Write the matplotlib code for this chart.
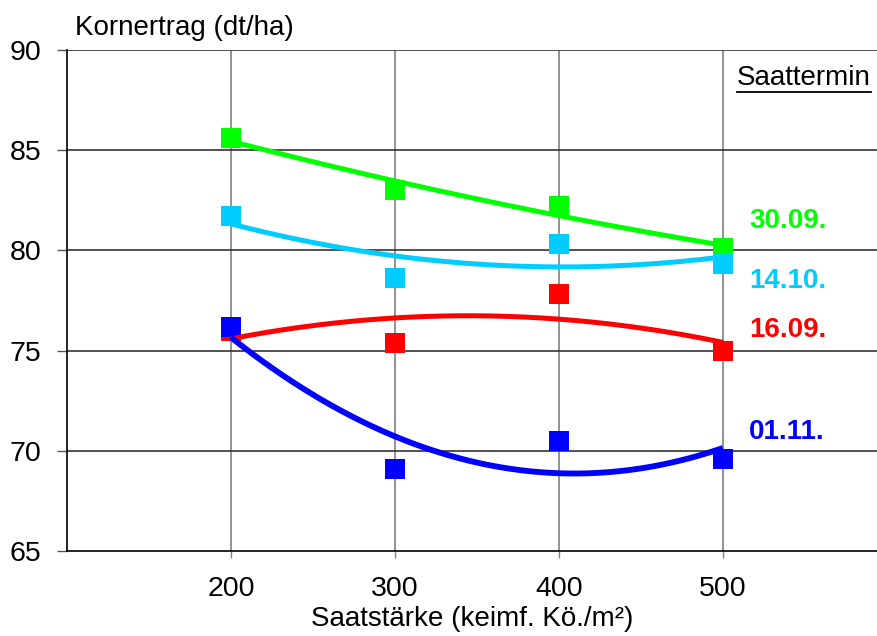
import numpy as np
import matplotlib
matplotlib.use("Agg")
import matplotlib.pyplot as plt

plt.rcParams['font.family'] = ['Liberation Sans', 'DejaVu Sans']

# Saatstärke (keimf. Kö./m2)
staerke = [200, 300, 400, 500]

# Kornertrag je Saattermin (dt/ha)
termine = ['30.09.', '14.10.', '16.09.', '01.11.']
ertrag_3009 = [85.6, 83.0, 82.2, 80.1]
ertrag_1410 = [81.7, 78.6, 80.3, 79.3]
ertrag_1609 = [76.0, 75.4, 77.8, 75.0]
ertrag_0111 = [76.2, 69.1, 70.5, 69.6]

farben = ['#00ff00', '#00ccff', '#ff0000', '#0000ff']
label_y = [81.45, 78.45, 76.05, 70.95]
linienbreite = [3.6, 3.6, 3.6, 4.2]

yticks = [65, 70, 75, 80, 85, 90]

fig = plt.figure(figsize=(8.77, 6.36), dpi=100)
ax = fig.add_axes([67 / 877, 1 - 551 / 636, 1 - 67 / 877, (551 - 50) / 636])

for x in staerke:
    ax.axvline(x, color='#808080', lw=1.2, zorder=1)
for y in yticks[1:]:
    ax.axhline(y, color='#333333', lw=1.2, zorder=1)

serien = [ertrag_3009, ertrag_1410, ertrag_1609, ertrag_0111]
xs = np.linspace(staerke[0], staerke[-1], 200)
for werte, farbe, name, ly, lw in zip(serien, farben, termine, label_y, linienbreite):
    ax.scatter(staerke, werte, marker='s', s=200, color=farbe, zorder=3, linewidths=0)
    koeff = np.polyfit(staerke, werte, 2)
    ax.plot(xs, np.polyval(koeff, xs), color=farbe, lw=lw, zorder=4,
            solid_capstyle='butt')
    ax.text(516, ly, name, color=farbe, fontsize=20, fontweight='bold',
            ha='left', va='center', zorder=5)

ax.set_xlim(100, 594)
ax.set_ylim(65, 90)
ax.set_xticks(staerke)
ax.set_yticks(yticks)
ax.tick_params(axis='y', labelsize=20.5, length=7.5, width=1, color='#555555', pad=11)
ax.tick_params(axis='x', labelsize=20.5, length=5, width=1, color='#808080', pad=13)

ax.spines['top'].set_visible(False)
ax.spines['right'].set_visible(False)
ax.spines['left'].set_color('black')
ax.spines['bottom'].set_color('black')
ax.spines['left'].set_linewidth(1.2)
ax.spines['bottom'].set_linewidth(1.2)

fig.text(75 / 877, 1 - 28 / 636, 'Kornertrag (dt/ha)', fontsize=20,
         ha='left', va='center')
fig.text(472 / 877, 1 - 619 / 636, 'Saatstärke (keimf. Kö./m²)', fontsize=20,
         ha='center', va='center')

# Legendentitel mit Unterstreichung
fig.text(871 / 877, 1 - 78 / 636, 'Saattermin', fontsize=20, ha='right', va='center')
fig.add_artist(plt.Line2D([737 / 877, 871 / 877], [1 - 92 / 636, 1 - 92 / 636],
                          color='black', lw=1.3, transform=fig.transFigure))

fig.savefig('out.png', dpi=100)
